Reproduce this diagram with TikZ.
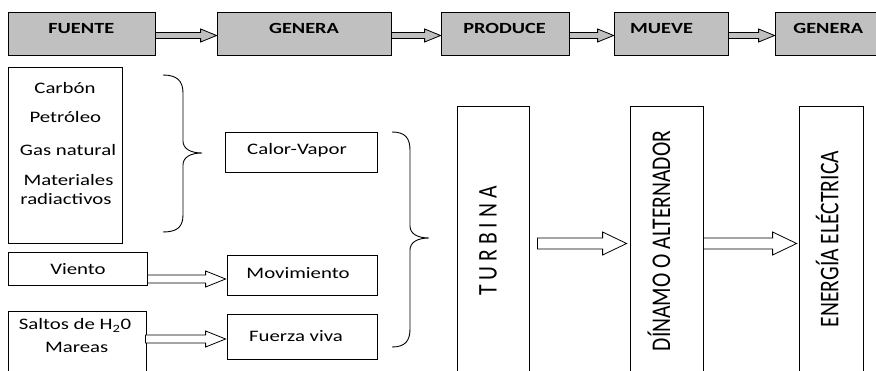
\documentclass[tikz,border=0pt]{standalone}
\usepackage{fontspec}
\setmainfont{Carlito}
\usepackage{graphicx}
\usetikzlibrary{calc,fit}
\definecolor{boxgray}{RGB}{192,192,192}
\newcommand\hs[1]{\scalebox{1.3}[1]{#1}}
\newcommand\hb[1]{\scalebox{1.31}[1]{#1}}
\newcommand\vs[1]{\scalebox{1}[1.25]{#1}}
% #1 style, #2 from, #3 to, #4 y, #5 shaft half, #6 head half, #7 head length, #8 start gap, #9 end gap
\newcommand\blockarr[9]{%
  \draw[#1] ($(#2.east |- 0,#4-#5)+(#8,0)$)
    -- ($(#3.west |- 0,#4-#5)+(-#7-#9,0)$)
    -- ($(#3.west |- 0,#4-#6)+(-#7-#9,0)$)
    -- ($(#3.west |- 0,#4)+(-#9,0)$)
    -- ($(#3.west |- 0,#4+#6)+(-#7-#9,0)$)
    -- ($(#3.west |- 0,#4+#5)+(-#7-#9,0)$)
    -- ($(#2.east |- 0,#4+#5)+(#8,0)$) -- cycle;}
\begin{document}
\begin{tikzpicture}[x=1pt,y=-1pt,
  topbox/.style={draw=black, line width=0.8pt, fill=boxgray, inner sep=0pt},
  wbox/.style={draw=black, line width=0.8pt, fill=white, inner sep=0pt},
  toptxt/.style={inner sep=0pt, anchor=base, font=\fontsize{15.5}{18}\selectfont\bfseries},
  txt/.style={inner sep=0pt, anchor=base, font=\fontsize{16}{19}\selectfont},
  rottxt/.style={inner sep=0pt, anchor=base, rotate=90, font=\fontsize{21.6}{25}\selectfont},
  garrow/.style={draw=black, line width=0.8pt, fill=boxgray, line join=miter},
  warrow/.style={draw=black, line width=0.8pt, fill=white, line join=miter},
  curlybrace/.style={draw=black, line width=0.9pt}]
\useasboundingbox (0,0) rectangle (876,371);
\clip (0,0) rectangle (876,371);
% top row
\node[topbox, fit={(8,12) (155,55)}] (fuente) {};
\node[topbox, fit={(217,12) (391,55)}] (genera) {};
\node[topbox, fit={(441,12) (569,55)}] (produce) {};
\node[topbox, fit={(614,12) (728,55)}] (mueve) {};
\node[topbox, fit={(775,12) (885,55)}] (generab) {};
\node[toptxt] (tfuente) at (81.3,34) {\hb{FUENTE}};
\node[toptxt] (tgenera) at (304,34) {\hb{GENERA}};
\node[toptxt] (tproduce) at (504.5,34) {\hb{PRODUCE}};
\node[toptxt] (tmueve) at (661.5,34) {\hb{MUEVE}};
\node[toptxt] (tgenerab) at (828.3,34) {\hb{GENERA}};
\blockarr{garrow}{fuente}{genera}{35.5}{3}{6.5}{16}{0}{0}
\blockarr{garrow}{genera}{produce}{35.5}{3}{6.5}{16}{0}{0}
\blockarr{garrow}{produce}{mueve}{35.5}{3}{6.5}{16}{0}{0}
\blockarr{garrow}{mueve}{generab}{35.5}{3}{6.5}{16}{0}{0}
% left boxes
\node[wbox, fit={(8,67) (122,243)}] (fuentes) {};
\node[wbox, fit={(225,132) (377,172)}] (calor) {};
\node[wbox, fit={(8,252) (147,285)}] (viento) {};
\node[wbox, fit={(227,255) (377,295)}] (movim) {};
\node[wbox, fit={(8,311) (146,385)}] (saltos) {};
\node[wbox, fit={(227,314) (377,359)}] (fuerza) {};
\node[txt] (tcarbon) at (65,93.3) {\hs{Carbón}};
\node[txt] (tpetroleo) at (65.3,122.7) {\hs{Petróleo}};
\node[txt] (tgas) at (68,156) {\hs{Gas natural}};
\node[txt] (tmat) at (68.5,186) {\hs{Materiales}};
\node[txt] (trad) at (66,205) {\hs{radiactivos}};
\node[txt] (tcalor) at (297,155) {\hs{Calor-Vapor}};
\node[txt] (tviento) at (78,275) {\hs{Viento}};
\node[txt] (tmovim) at (298,278.3) {\hs{Movimiento}};
\node[txt] (tsaltos) at (75,330) {\hs{Saltos de H\textsubscript{2}0}};
\node[txt] (tmareas) at (76.7,353) {\hs{Mareas}};
\node[txt] (tfuerza) at (296,341.7) {\hs{Fuerza viva}};
\blockarr{warrow}{viento}{movim}{279}{4}{8}{20}{0}{1}
\blockarr{warrow}{saltos}{fuerza}{339}{4}{8}{20}{-1}{1}
% braces
\draw[curlybrace] (163,75) .. controls (177,75) and (183,81) .. (183,93)
  -- (183,141) .. controls (183,149) and (191,153) .. (202,153)
  .. controls (191,153) and (183,157) .. (183,165)
  -- (183,215) .. controls (183,227) and (177,232) .. (163,232);
\draw[curlybrace] (392,132) .. controls (405,132) and (410,138) .. (410,150)
  -- (410,226) .. controls (410,234) and (418,238) .. (429,238)
  .. controls (418,238) and (410,242) .. (410,250)
  -- (410,329) .. controls (410,341) and (405,347) .. (392,347);
% right boxes
\node[wbox, fit={(457,106) (529,385)}] (turbina) {};
\node[wbox, fit={(630,106) (703,385)}] (dinamo) {};
\node[wbox, fit={(799,106) (863,385)}] (energia) {};
\node[rottxt] (tturbina) at (496.7,241) {\vs{T U R B I N A}};
\node[rottxt] (tdinamo) at (670,241) {\vs{DÍNAMO O ALTERNADOR}};
\node[rottxt] (tenergia) at (838.3,239) {\vs{ENERGÍA ELÉCTRICA}};
\blockarr{warrow}{turbina}{dinamo}{243.5}{5.5}{11.5}{24}{8}{3}
\blockarr{warrow}{dinamo}{energia}{243.5}{5.5}{11.5}{24}{0}{2}
\end{tikzpicture}
\end{document}
